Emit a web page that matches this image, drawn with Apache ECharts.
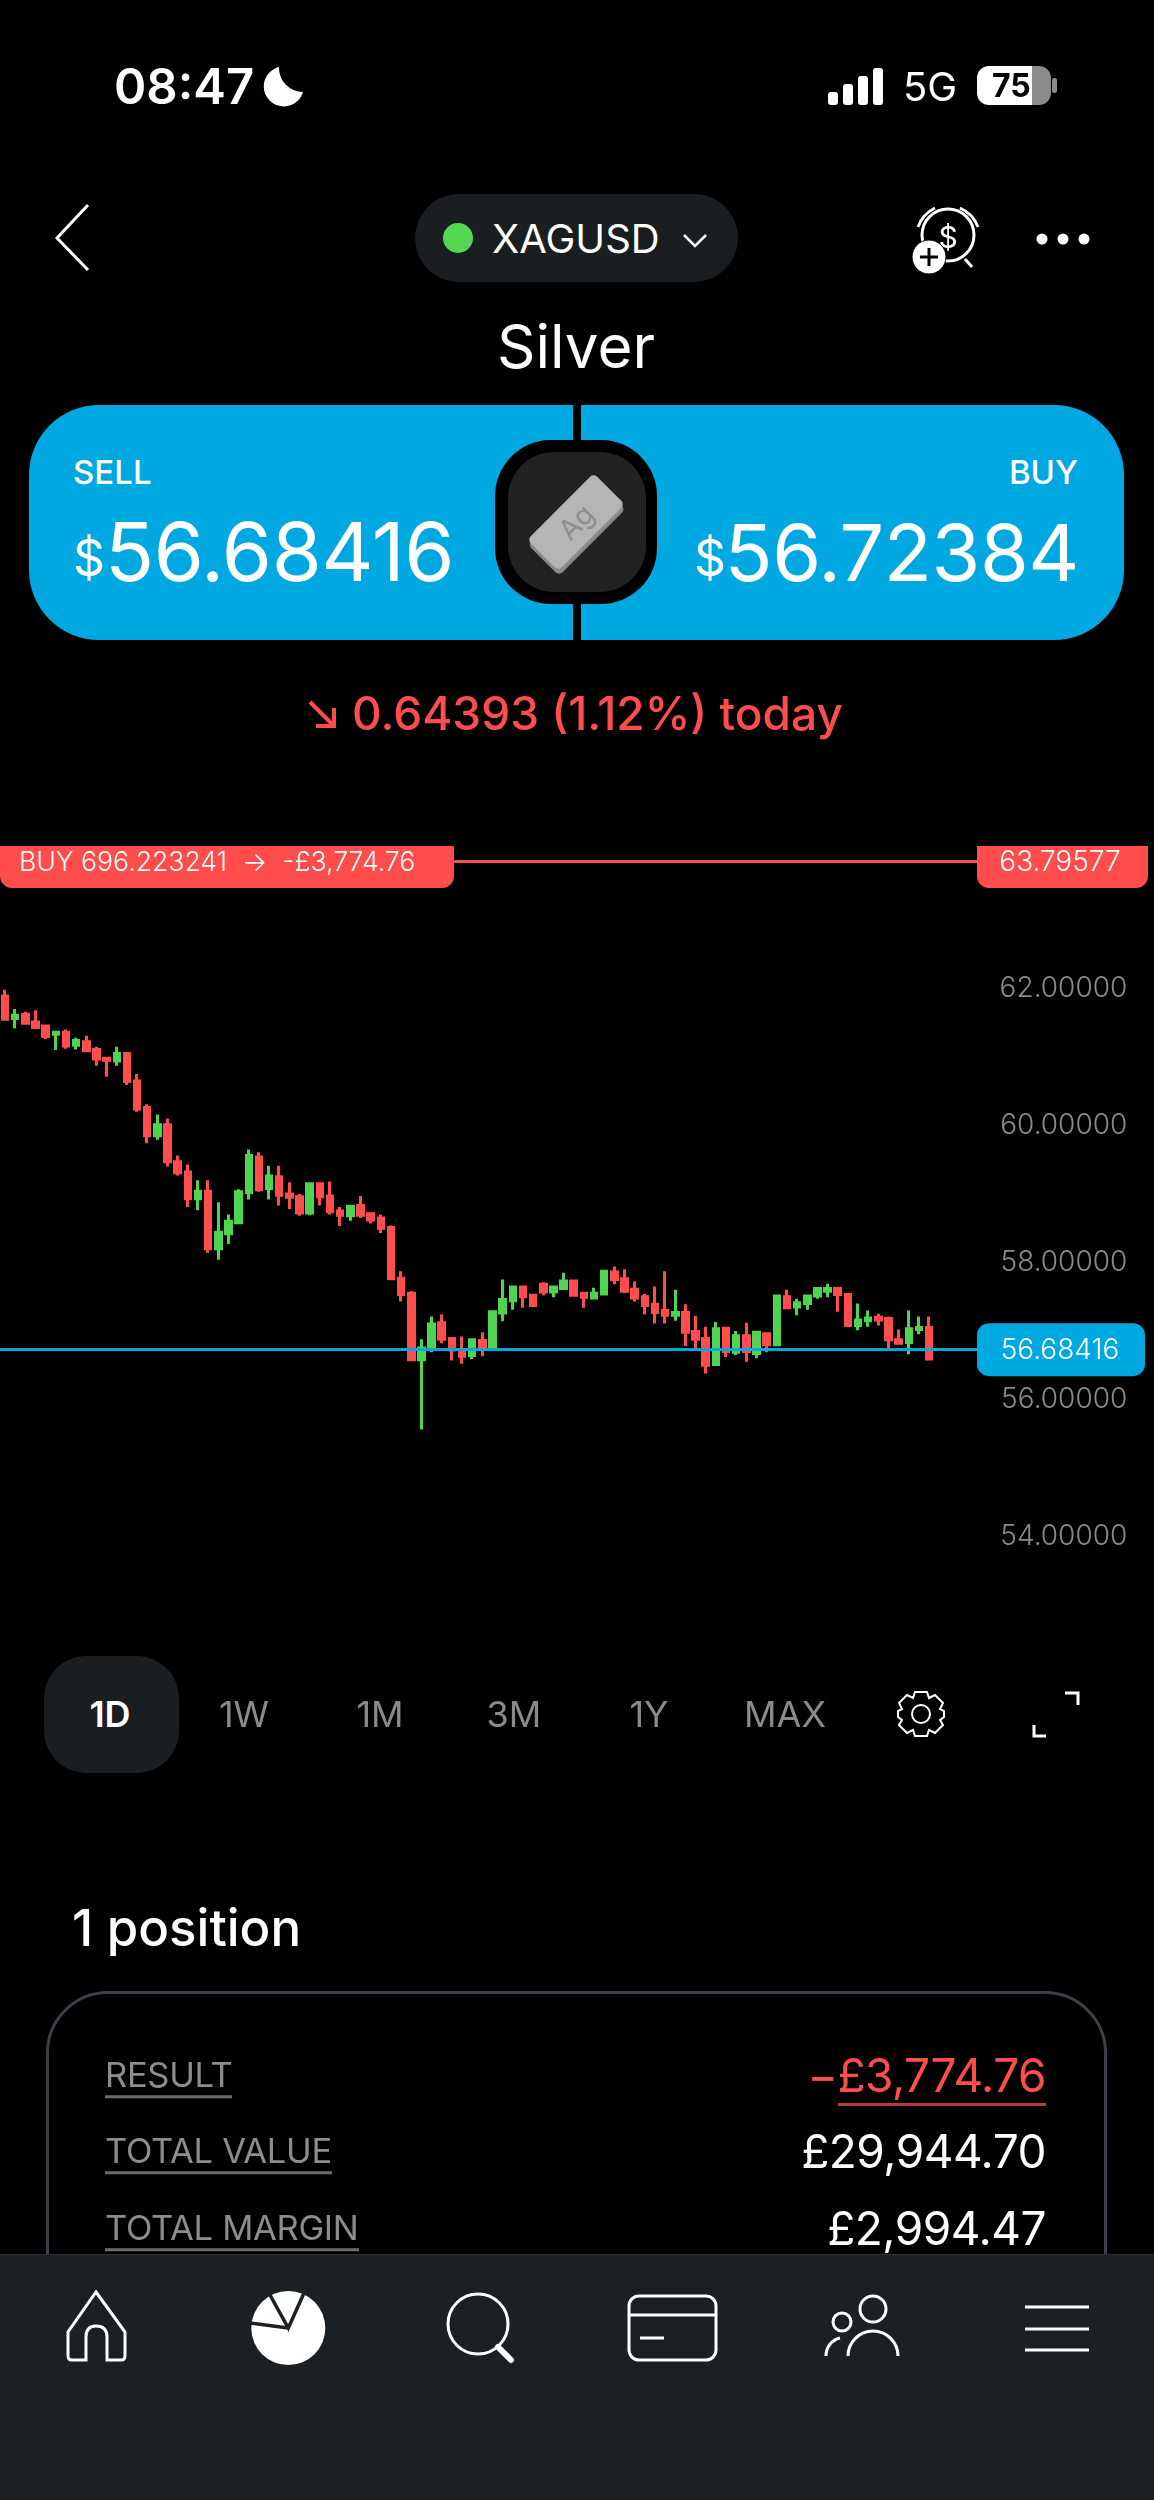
<!DOCTYPE html>
<html>
<head>
<meta charset="utf-8">
<title>XAGUSD</title>
<script src="https://cdn.jsdelivr.net/npm/echarts@6/dist/echarts.min.js"></script>
<style>
  html, body { margin: 0; padding: 0; background: #000; }
  #page { position: relative; width: 1154px; height: 2500px; overflow: hidden; background: #000; font-family: Inter, "Noto Sans", sans-serif; color: #fff; }
  #chart { position: absolute; left: 0; top: 0; width: 1154px; height: 2500px; }
  .box { position: absolute; }
  .t { position: absolute; white-space: nowrap; transform: translateY(-50%); line-height: 1; }
  .tf { transform: translate(-50%, -50%); font-size: 36px; color: #8a8a8a; }
  .row { font-size: 34.5px; color: #8d8d8d; letter-spacing: -0.3px; border-bottom: 3px solid #6b6b6b; padding-bottom: 2px; left: 105px; }
  .val { font-size: 46px; right: 108px; letter-spacing: -0.5px; }
  svg { position: absolute; left: 0; top: 0; }
</style>
</head>
<body>
<div id="page">
  <div id="chart"></div>

  <!-- status bar -->
  <div class="t" style="left:114px;top:86px;font-size:49px;font-weight:600">08:47</div>
  <div class="t" style="left:903px;top:87px;font-size:40px">5G</div>
  <div class="box" style="left:977px;top:66px;width:74px;height:39px;border-radius:12px;background:linear-gradient(90deg,#fff 74%,#8b8b8b 74%)"></div>
  <div class="t" style="left:992px;top:86px;font-size:32px;font-weight:700;color:#000">75</div>

  <!-- header -->
  <div class="box" style="left:415px;top:194px;width:323px;height:88px;border-radius:44px;background:#1a1e20"></div>
  <div class="box" style="left:443px;top:223px;width:30px;height:30px;border-radius:50%;background:#55d655"></div>
  <div class="t" style="left:492px;top:239px;font-size:40px">XAGUSD</div>
  <div class="t" style="left:576px;top:346px;font-size:60px;transform:translate(-50%,-50%)">Silver</div>

  <!-- sell / buy panel -->
  <div class="box" style="left:29px;top:405px;width:1095px;height:235px;border-radius:70px;background:#00a8e2"></div>
  <div class="box" style="left:573px;top:405px;width:8px;height:235px;background:#000"></div>
  <div class="box" style="left:495px;top:440px;width:162px;height:164px;border-radius:56px;background:#000"></div>
  <div class="box" style="left:508px;top:452px;width:138px;height:140px;border-radius:46px;background:#222"></div>
  <div class="box" style="left:529px;top:500px;width:94px;height:44px;border-radius:5px;background:#b5b5b5;transform:rotate(-45deg);box-shadow:-3px 4px 0 #8a8a8a;text-align:center;line-height:44px;color:#8e8e8e;font-size:28px">Ag</div>
  <div class="t" style="left:73px;top:472px;font-size:33px;font-weight:500">SELL</div>
  <div class="t" style="right:76px;top:472px;font-size:33px;font-weight:500">BUY</div>
  <div class="t" style="left:73px;top:558px;font-size:50px">$</div>
  <div class="t" style="left:105px;top:552px;font-size:81px;letter-spacing:-0.4px">56.68416</div>
  <div class="t" style="left:694px;top:558px;font-size:50px">$</div>
  <div class="t" style="right:75px;top:552px;font-size:79px;letter-spacing:-0.4px">56.72384</div>
  <div class="t" style="left:352px;top:713px;font-size:46px;font-weight:500;color:#ff4d4d">0.64393 (1.12%) today</div>

  <!-- timeframe row -->
  <div class="box" style="left:44px;top:1656px;width:135px;height:117px;border-radius:42px;background:#1a1e20"></div>
  <div class="t tf" style="left:110px;top:1714px;color:#fff;font-weight:600">1D</div>
  <div class="t tf" style="left:244px;top:1714px">1W</div>
  <div class="t tf" style="left:380px;top:1714px">1M</div>
  <div class="t tf" style="left:514px;top:1714px">3M</div>
  <div class="t tf" style="left:649px;top:1714px">1Y</div>
  <div class="t tf" style="left:785px;top:1714px">MAX</div>

  <!-- position card -->
  <div class="t" style="left:72px;top:1927px;font-size:51px;font-weight:500">1 position</div>
  <div class="box" style="left:46px;top:1991px;width:1061px;height:400px;border-radius:62px;border:3px solid #3a4148;box-sizing:border-box"></div>
  <div class="t row" style="top:2078px">RESULT</div>
  <div class="t row" style="top:2154px">TOTAL VALUE</div>
  <div class="t row" style="top:2231px">TOTAL MARGIN</div>
  <div class="t val" style="top:2075px;color:#ff4d4d">−<span style="border-bottom:3px solid #b83a3a">£3,774.76</span></div>
  <div class="t val" style="top:2151px">£29,944.70</div>
  <div class="t val" style="top:2228px">£2,994.47</div>

  <!-- nav bar -->
  <div class="box" style="left:0;top:2254px;width:1154px;height:246px;background:#1b2024;border-top:1px solid #2a2f33;box-sizing:border-box"></div>

  <svg width="1154" height="2500" fill="none" stroke="#fff" stroke-width="3">
    <!-- moon -->
    <path d="M279 67 A20 20 0 1 0 303 92 A24 24 0 0 1 279 67 Z" fill="#fff" stroke="none"/>
    <!-- signal -->
    <g fill="#fff" stroke="none">
      <rect x="828" y="92" width="10" height="13" rx="3"/>
      <rect x="843" y="84" width="10" height="21" rx="3"/>
      <rect x="858" y="76" width="10" height="29" rx="3"/>
      <rect x="873" y="68" width="10" height="37" rx="3"/>
      <rect x="1052" y="78" width="5" height="15" rx="2" fill="#8b8b8b"/>
    </g>
    <!-- back, pill chevron -->
    <path d="M88 205 L57 238 L88 270"/>
    <path d="M684 235 L695 246 L706 235" stroke-width="2.5"/>
    <!-- alarm -->
    <circle cx="948" cy="235" r="26"/>
    <path d="M918 227 A34 34 0 0 1 935 208 M960 208 A34 34 0 0 1 978 227 M965 259 L972 267"/>
    <text x="948" y="248" font-size="30" fill="#fff" stroke="none" text-anchor="middle" font-family="Inter">$</text>
    <circle cx="929" cy="257" r="17" fill="#fff" stroke="#000" stroke-width="1"/>
    <path d="M920 257 H938 M929 248 V266" stroke="#000"/>
    <g fill="#fff" stroke="none"><circle cx="1042" cy="239" r="5.5"/><circle cx="1063" cy="239" r="5.5"/><circle cx="1084" cy="239" r="5.5"/></g>
    <!-- gear -->
    <g stroke-width="2">
      <circle cx="921" cy="1714" r="9"/>
      <path d="M915 1692 L927 1692 L929 1698 L935 1695 L943 1703 L940 1709 L944 1711 L944 1717 L940 1720 L943 1725 L935 1733 L929 1730 L927 1736 L915 1736 L913 1730 L907 1733 L899 1725 L902 1720 L898 1717 L898 1711 L902 1709 L899 1703 L907 1695 L913 1698 Z"/>
    </g>
    <!-- expand -->
    <path d="M1065 1693 H1078 V1705 M1034 1725 V1736 H1046"/>
    <!-- home -->
    <path d="M96 2292 L125 2332 V2356 Q125 2360 121 2360 H107 V2337 Q107 2326 96 2326 Q86 2326 86 2337 V2360 H72 Q68 2360 68 2356 V2332 Z"/>
    <!-- pie -->
    <circle cx="288.3" cy="2328" r="37" fill="#fff" stroke="none"/>
    <path d="M270 2295 L288.3 2328 L304 2293 M250 2323 L288.3 2328" stroke="#1b2024" stroke-width="3.5"/>
    <!-- search -->
    <circle cx="478" cy="2324" r="30"/>
    <path d="M498 2347 L511 2360" stroke-width="6" stroke-linecap="round"/>
    <!-- card -->
    <rect x="629" y="2296" width="87" height="64" rx="10"/>
    <path d="M629 2315 H716 M640 2338 H664"/>
    <!-- people -->
    <circle cx="873" cy="2309" r="13"/>
    <circle cx="842" cy="2322" r="9"/>
    <path d="M848 2356 A25 25 0 0 1 898 2356 M826 2356 A18 18 0 0 1 840 2338"/>
    <!-- menu -->
    <path d="M1025 2307 H1089 M1025 2329 H1089 M1025 2350 H1089"/>
    <!-- change arrow -->
    <path d="M310 702 L334 726 M334 708 V726 H316" stroke="#ff4d4d" stroke-width="4"/>
  </svg>
</div>

<script>
// candles, oldest first
const opens = [61.84,61.51,61.57,61.46,61.40,61.28,61.31,61.12,61.17,61.06,60.93,60.89,61.00,60.60,60.21,59.80,59.96,59.42,59.27,58.88,58.99,58.15,58.37,58.53,58.97,59.49,59.03,59.20,58.95,58.91,58.67,59.10,58.92,58.70,58.63,58.78,58.66,58.60,58.46,57.72,57.50,56.53,56.69,57.07,56.84,56.68,56.59,56.81,56.70,57.21,57.39,57.59,57.47,57.63,57.52,57.57,57.68,57.50,57.43,57.49,57.81,57.71,57.56,57.45,57.34,57.25,57.18,57.22,56.94,56.84,56.46,56.99,56.64,56.88,56.62,56.91,56.75,57.45,57.30,57.35,57.46,57.53,57.57,57.48,57.03,57.10,57.15,57.13,56.82,56.78,56.97,57.00];
const closes = [61.50,61.56,61.44,61.38,61.25,61.31,61.11,61.19,61.04,60.92,60.90,61.00,60.59,60.19,59.80,59.96,59.42,59.26,58.88,58.99,58.15,58.39,58.55,58.98,59.51,59.01,59.21,58.93,58.90,58.67,59.10,58.91,58.69,58.64,58.77,58.64,58.57,58.45,57.71,57.48,56.53,56.70,57.05,56.83,56.67,56.58,56.82,56.69,57.23,57.41,57.59,57.45,57.32,57.52,57.59,57.68,57.47,57.44,57.50,57.82,57.70,57.53,57.43,57.32,57.22,57.18,57.22,56.93,56.83,56.45,56.98,56.65,56.88,56.65,56.93,56.75,57.46,57.29,57.36,57.46,57.57,57.57,57.48,57.03,57.11,57.14,57.11,56.82,56.77,56.98,57.00,56.54];
const lows = [61.49,61.37,61.42,61.36,61.21,61.05,61.07,61.06,61.02,60.82,60.66,60.82,60.54,60.15,59.69,59.74,59.35,59.22,58.76,58.71,58.09,57.99,58.22,58.51,58.87,58.98,58.87,58.78,58.73,58.63,58.64,58.78,58.65,58.48,58.56,58.60,58.52,58.38,57.69,57.38,56.53,55.51,56.64,56.77,56.52,56.47,56.54,56.58,56.70,57.09,57.26,57.29,57.31,57.47,57.44,57.57,57.45,57.29,57.43,57.49,57.63,57.50,57.38,57.19,57.06,57.06,57.10,56.73,56.70,56.33,56.46,56.57,56.60,56.50,56.55,56.64,56.75,57.28,57.18,57.26,57.42,57.44,57.23,57.02,56.96,57.01,57.03,56.70,56.77,56.61,56.90,56.53];
const highs = [61.93,61.65,61.61,61.63,61.40,61.31,61.35,61.23,61.26,61.10,60.93,61.10,61.00,60.70,60.26,60.11,60.05,59.51,59.38,59.15,59.15,58.83,58.65,59.02,59.60,59.56,59.36,59.36,59.12,58.95,59.12,59.11,59.13,58.76,58.77,58.92,58.66,58.65,58.49,57.82,57.53,56.83,57.16,57.19,56.84,56.87,56.82,56.93,57.25,57.70,57.61,57.61,57.49,57.66,57.61,57.80,57.68,57.52,57.58,57.83,57.89,57.85,57.67,57.49,57.60,57.82,57.55,57.34,57.17,57.01,57.08,57.00,56.95,57.07,56.95,56.91,57.46,57.55,57.42,57.46,57.58,57.64,57.58,57.48,57.35,57.25,57.20,57.16,56.97,57.25,57.16,57.16];
const buyPrice = 63.79577;
const sellPrice = 56.68416;
const buyTag = "BUY 696.223241  →  -£3,774.76";
const yMin = 54;
const yMax = 64;
const yStep = 2;
const blankSlots = 20; // empty room on the right, under the price labels

const red = "#ff4d4d";
const green = "#4fd44f";
const blue = "#00a8e2";

const candles = opens.map((o, i) => [o, closes[i], lows[i], highs[i]]);
const slots = [];
for (let i = 0; i < opens.length + blankSlots; i++) slots.push(String(i));

const myChart = echarts.init(document.getElementById("chart"));
myChart.setOption({
  animation: false,
  backgroundColor: "transparent",
  grid: { left: -2.4, top: 848, width: 1139.7, height: 685 },
  xAxis: { type: "category", data: slots, show: false, boundaryGap: true },
  yAxis: {
    type: "value",
    position: "right",
    min: yMin,
    max: yMax,
    interval: yStep,
    scale: true,
    axisLine: { show: false },
    axisTick: { show: false },
    splitLine: { show: false },
    axisLabel: {
      inside: true,
      margin: 10,
      showMaxLabel: false,
      color: "#8a8a8a",
      fontFamily: "Inter",
      fontWeight: 300,
      fontSize: 28,
      verticalAlign: "top", // labels sit a little under their tick in the app
      lineHeight: 7,
      formatter: (v) => v.toFixed(5),
    },
  },
  series: [
    {
      type: "candlestick",
      data: candles,
      barWidth: 6,
      itemStyle: { color: green, color0: red, borderColor: green, borderColor0: red, borderWidth: 3 },
      markLine: {
        silent: true,
        symbol: "none",
        animation: false,
        label: { show: false },
        data: [
          { yAxis: buyPrice, lineStyle: { color: red, width: 3, type: "solid" } },
          { yAxis: sellPrice, lineStyle: { color: blue, width: 3, type: "solid" } },
        ],
      },
    },
  ],
});

// price tags sit on the lines, so take their height from the y axis
function tag(x, w, y, above, below, fill, radius, label, labelX, align, size) {
  return {
    type: "group",
    z: 100,
    children: [
      { type: "rect", z: 100, shape: { x: x, y: y - above, width: w, height: above + below, r: radius }, style: { fill: fill } },
      {
        type: "text",
        z: 101,
        style: { x: labelX, y: y + 1, text: label, fill: "#fff", font: "300 " + size + "px Inter", align: align, verticalAlign: "middle" },
      },
    ],
  };
}
const buyY = myChart.convertToPixel({ yAxisIndex: 0 }, buyPrice);
const sellY = myChart.convertToPixel({ yAxisIndex: 0 }, sellPrice);
myChart.setOption({
  graphic: [
    tag(0, 454, buyY, 16, 26, red, [0, 0, 12, 12], buyTag, 19, "left", 26.6),
    tag(977, 171, buyY, 16, 26, red, [0, 0, 12, 12], buyPrice.toFixed(5), 1060, "center", 28),
    tag(977, 168, sellY, 26, 27, blue, 12, sellPrice.toFixed(5), 1060, "center", 28),
  ],
});
</script>
</body>
</html>
